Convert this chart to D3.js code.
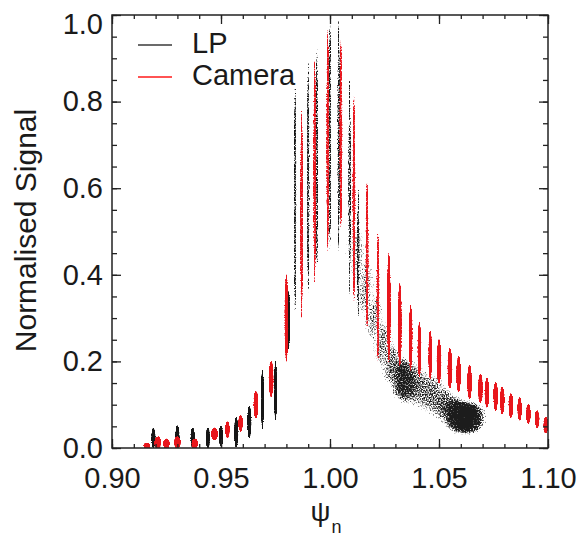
<!DOCTYPE html>
<html>
<head>
<meta charset="utf-8">
<script src="https://cdn.jsdelivr.net/npm/d3@7"></script>
<style>
  html, body { margin: 0; padding: 0; background: #fff; }
  svg { display: block; font-family: "Liberation Sans", Arial, Helvetica, sans-serif; }
</style>
</head>
<body>
<script>
// Camera (red) streaks: psi position, lower and upper normalised signal
const camPsi = [0.916, 0.921, 0.925, 0.930, 0.938, 0.947, 0.953, 0.959, 0.966, 0.973,
                0.980, 0.987, 0.993, 0.999, 1.005, 1.011, 1.017, 1.022, 1.027, 1.032,
                1.037, 1.041, 1.046, 1.050, 1.055, 1.059, 1.064, 1.069, 1.072, 1.076,
                1.079, 1.083, 1.087, 1.091, 1.095, 1.099];
const camLo = [0.0, 0.0, 0.0, 0.0, 0.0, 0.02, 0.025, 0.04, 0.07, 0.12,
               0.2, 0.3, 0.38, 0.45, 0.5, 0.33, 0.27, 0.2, 0.2, 0.19,
               0.18, 0.165, 0.16, 0.15, 0.14, 0.13, 0.115, 0.105, 0.095, 0.088,
               0.08, 0.072, 0.065, 0.058, 0.048, 0.035];
const camHi = [0.01, 0.025, 0.02, 0.025, 0.02, 0.045, 0.06, 0.075, 0.13, 0.2,
               0.4, 0.78, 0.9, 0.97, 0.95, 0.82, 0.62, 0.5, 0.45, 0.38,
               0.33, 0.29, 0.27, 0.25, 0.23, 0.21, 0.19, 0.17, 0.16, 0.15,
               0.14, 0.125, 0.115, 0.1, 0.085, 0.07];

// LP (black) streaks
const lpPsi = [0.919, 0.930, 0.937, 0.944, 0.950, 0.957, 0.963, 0.969, 0.975, 0.981,
               0.984, 0.990, 0.994, 1.000, 1.004, 1.009, 1.013];
const lpLo = [0.0, 0.0, 0.0, 0.0, 0.005, 0.003, 0.025, 0.045, 0.065, 0.23,
              0.3, 0.35, 0.4, 0.45, 0.45, 0.35, 0.3];
const lpHi = [0.045, 0.05, 0.045, 0.045, 0.05, 0.07, 0.095, 0.18, 0.2, 0.36,
              0.85, 0.9, 0.93, 1.0, 1.0, 0.85, 0.6];

// LP scatter cloud outside the separatrix: band position, extent and point density
const cloudPsi = [1.010, 1.014, 1.018, 1.022, 1.026, 1.030, 1.034, 1.038, 1.042, 1.046,
                  1.050, 1.054, 1.058, 1.062, 1.066, 1.070];
const cloudLo = [0.40, 0.32, 0.26, 0.20, 0.16, 0.12, 0.11, 0.10, 0.09, 0.08,
                 0.07, 0.05, 0.04, 0.04, 0.04, 0.05];
const cloudHi = [0.55, 0.50, 0.42, 0.34, 0.28, 0.23, 0.20, 0.20, 0.19, 0.17,
                 0.16, 0.13, 0.11, 0.10, 0.10, 0.09];
const cloudDensity = [0.34, 0.37, 0.4, 0.4, 0.42, 0.46, 0.66, 0.42, 0.4, 0.4,
                      0.42, 0.5, 0.75, 0.95, 0.75, 0.32];

const xMajor = [0.90, 0.95, 1.00, 1.05, 1.10];
const yMajor = [0.0, 0.2, 0.4, 0.6, 0.8, 1.0];
const seriesNames = ["LP", "Camera"];

const width = 585, height = 547;
const plotLeft = 112, plotRight = 548, plotTop = 15, plotBottom = 448;

const x = d3.scaleLinear().domain([0.90, 1.10]).range([plotLeft, plotRight]);
const y = d3.scaleLinear().domain([0, 1]).range([plotBottom, plotTop]);
const colors = { LP: "#141414", Camera: "#e8131f" };

const svg = d3.select("body").append("svg")
  .attr("width", width)
  .attr("height", height);

const defs = svg.append("defs");
defs.append("clipPath").attr("id", "plotClip")
  .append("rect")
  .attr("x", plotLeft).attr("y", plotTop)
  .attr("width", plotRight - plotLeft).attr("height", plotBottom - plotTop);

// dithered scatter look: blur the shapes, then threshold against noise
function ditherFilter(id, color, blur, seed, k) {
  const f = defs.append("filter").attr("id", id)
    .attr("filterUnits", "userSpaceOnUse")
    .attr("x", 0).attr("y", 0).attr("width", width).attr("height", height);
  f.append("feGaussianBlur").attr("in", "SourceGraphic").attr("stdDeviation", blur).attr("result", "b");
  f.append("feTurbulence").attr("type", "fractalNoise").attr("baseFrequency", 0.75)
    .attr("numOctaves", 1).attr("seed", seed).attr("result", "n");
  f.append("feColorMatrix").attr("in", "n").attr("type", "matrix")
    .attr("values", "0 0 0 0 0  0 0 0 0 0  0 0 0 0 0  1 0 0 0 0").attr("result", "na");
  f.append("feComposite").attr("in", "b").attr("in2", "na").attr("operator", "arithmetic")
    .attr("k1", 0).attr("k2", k).attr("k3", k).attr("k4", -k).attr("result", "m");
  f.append("feFlood").attr("flood-color", color).attr("result", "c");
  f.append("feComposite").attr("in", "c").attr("in2", "m").attr("operator", "in");
}
ditherFilter("ditherLP", colors.LP, 0.7, 4, 5);
ditherFilter("ditherCloud", "#1c1c1c", 3, 7, 4);
ditherFilter("ditherCam", colors.Camera, 0.6, 11, 5);

const plot = svg.append("g").attr("clip-path", "url(#plotClip)");

// LP cloud
const cloud = cloudPsi.map((p, i) => ({ p, lo: cloudLo[i], hi: cloudHi[i], d: cloudDensity[i] }));
plot.append("g").attr("filter", "url(#ditherCloud)")
  .selectAll("ellipse").data(cloud).join("ellipse")
  .attr("cx", d => x(d.p))
  .attr("cy", d => (y(d.lo) + y(d.hi)) / 2)
  .attr("rx", d => x(d.p + 0.0042) - x(d.p))
  .attr("ry", d => (y(d.lo) - y(d.hi)) / 2 + 4)
  .attr("fill", "#000")
  .attr("fill-opacity", d => d.d);

// streak shape depends on how tall it is
function streakHeight(d) { return y(d.lo) - y(d.hi); }
function streakWidth(d) {
  const h = streakHeight(d);
  if (h < 14) return 7;
  if (h < 45) return 5;
  if (h < 110) return 4;
  return 3.4;
}

const lp = lpPsi.map((p, i) => ({ p, lo: lpLo[i], hi: lpHi[i] }));
const cam = camPsi.map((p, i) => ({ p, lo: camLo[i], hi: camHi[i] }));

plot.append("g").attr("filter", "url(#ditherLP)")
  .selectAll("ellipse").data(lp).join("ellipse")
  .attr("cx", d => x(d.p))
  .attr("cy", d => (y(d.lo) + y(d.hi)) / 2)
  .attr("rx", d => streakWidth(d) / 2 - 0.2)
  .attr("ry", d => streakHeight(d) / 2 + 1)
  .attr("fill", "#000")
  .attr("fill-opacity", d => streakHeight(d) > 110 ? 0.66 : 0.92);

plot.append("g").attr("filter", "url(#ditherCam)")
  .selectAll("ellipse").data(cam).join("ellipse")
  .attr("cx", d => x(d.p))
  .attr("cy", d => (y(d.lo) + y(d.hi)) / 2)
  .attr("rx", d => streakWidth(d) / 2)
  .attr("ry", d => streakHeight(d) / 2 + 1)
  .attr("fill", "#000")
  .attr("fill-opacity", d => streakHeight(d) > 110 ? 0.78 : 1);

// axes: ticks point inward on all four sides
const xMinor = d3.range(0.90, 1.1001, 0.01);
const yMinor = d3.range(0, 1.0001, 0.05);
const axisColor = "#222";

function styleAxis(g) {
  g.select(".domain").remove();
  g.selectAll(".tick line").attr("stroke", axisColor).attr("stroke-width", 1.3);
}

svg.append("g").attr("transform", `translate(0,${plotBottom})`)
  .call(d3.axisBottom(x).tickValues(xMinor).tickSize(-4).tickFormat(""))
  .call(styleAxis);
svg.append("g").attr("transform", `translate(0,${plotTop})`)
  .call(d3.axisTop(x).tickValues(xMinor).tickSize(-4).tickFormat(""))
  .call(styleAxis);
svg.append("g").attr("transform", `translate(0,${plotTop})`)
  .call(d3.axisTop(x).tickValues(xMajor).tickSize(-9).tickFormat(""))
  .call(styleAxis);
const xAxis = svg.append("g").attr("transform", `translate(0,${plotBottom})`)
  .call(d3.axisBottom(x).tickValues(xMajor).tickSize(-9).tickPadding(19).tickFormat(d3.format(".2f")))
  .call(styleAxis);
xAxis.selectAll("text").attr("font-size", 29).attr("fill", "#1a1a1a")
  .attr("font-family", '"Liberation Sans", Arial, sans-serif');

svg.append("g").attr("transform", `translate(${plotLeft},0)`)
  .call(d3.axisLeft(y).tickValues(yMinor).tickSize(-5).tickFormat(""))
  .call(styleAxis);
svg.append("g").attr("transform", `translate(${plotRight},0)`)
  .call(d3.axisRight(y).tickValues(yMinor).tickSize(-5).tickFormat(""))
  .call(styleAxis);
svg.append("g").attr("transform", `translate(${plotRight},0)`)
  .call(d3.axisRight(y).tickValues(yMajor).tickSize(-9).tickFormat(""))
  .call(styleAxis);
const yAxis = svg.append("g").attr("transform", `translate(${plotLeft},0)`)
  .call(d3.axisLeft(y).tickValues(yMajor).tickSize(-9).tickPadding(9).tickFormat(d3.format(".1f")))
  .call(styleAxis);
yAxis.selectAll("text").attr("font-size", 29).attr("fill", "#1a1a1a")
  .attr("font-family", '"Liberation Sans", Arial, sans-serif');
// top label sits lower so it stays inside the figure
yAxis.selectAll(".tick").filter(d => d === 1.0).select("text").attr("y", 9);

// frame
svg.append("rect")
  .attr("x", plotLeft).attr("y", plotTop)
  .attr("width", plotRight - plotLeft).attr("height", plotBottom - plotTop)
  .attr("fill", "none").attr("stroke", axisColor).attr("stroke-width", 1.5);

// axis titles
svg.append("text")
  .attr("transform", `translate(36,${(105 + 356) / 2}) rotate(-90)`)
  .attr("text-anchor", "middle")
  .attr("font-size", 30).attr("fill", "#1a1a1a")
  .text("Normalised Signal");

const xt = svg.append("text")
  .attr("x", x(1.0) - 4).attr("y", 521)
  .attr("text-anchor", "middle")
  .attr("font-size", 28).attr("fill", "#1a1a1a");
xt.append("tspan").text("ψ");
xt.append("tspan").attr("font-size", 18).attr("dy", 12).attr("dx", 1).text("n");

// legend
const legend = svg.append("g");
seriesNames.forEach((name, i) => {
  const ly = 45 + i * 32;
  legend.append("line")
    .attr("x1", 138).attr("x2", 172).attr("y1", ly).attr("y2", ly)
    .attr("stroke", name === "LP" ? "#3a3a3a" : "#ff1a1a").attr("stroke-width", 1.6);
  legend.append("text")
    .attr("x", 192).attr("y", ly + 8)
    .attr("font-size", 29).attr("fill", "#1a1a1a")
    .text(name);
});
</script>
</body>
</html>
